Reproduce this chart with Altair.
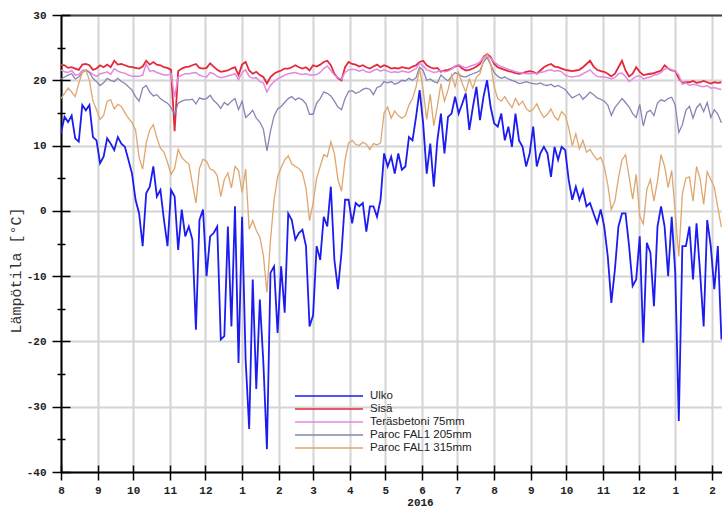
import altair as alt
import pandas as pd

series_names = ["Ulko", "Sisä", "Teräsbetoni 75mm", "Paroc FAL1 205mm", "Paroc FAL1 315mm"]
colors = ["#1c1cf0", "#e5283a", "#e08ae0", "#8585b5", "#dfa66e"]
widths = [1.8, 1.8, 1.5, 1.3, 1.3]

# samples every 3 days starting 2015-08-01
ulko = [
    11.9, 14.4, 13.6, 14.6, 11.1, 10.6, 16.2, 15.4, 16.2, 11.3, 10.8, 7.3, 8.3, 11.1, 10.3, 9.3, 11.3, 10.3,
    9.8, 7.8, 5.7, 1.7, -0.4, -5.4, 2.7, 3.7, 6.8, 2.2, 3.2, -1.4, -5.4, 3.2, 2.2, -6, 0.2, -3.9,
    -2.4, -4.4, -18.2, -1.4, 0.2, -10, -3.9, -3.4, -2.4, -19.7, -19.2, -2.4, -17.7, 0.7, -23.3, -0.9, -22.8,
    -33.4, -10.5, -27.3, -13.6, -23.3, -36.5, -9.5, -8.5, -18.7, -8.5, -15.6, -0.4, -1.4, -4.4, -3.4, -2.9,
    -5.4, -17.7,
    -16, -5.4, -7.5, -0.9, -2.4, 3.7, -7.5, -12, -6.4, 1.7, 1.7, -1.9, 1.2, 0.7, 1.2, -3.2, 0.7, 0.7, -0.9,
    1.7, 8.8, 6.8, 8.3, 5.7, 8.8, 6.3, 6.8, 11.3, 10.8, 14.4, 18.5, 13.4, 5.7, 10.3, 3.7, 10.8,
    14.9, 8.8, 14.4, 14.9, 17.5, 14.9, 16.4, 18, 12.4, 15.9, 19, 13.9, 17.5, 20, 15.9, 13.4, 12.9, 14.9,
    10.8, 12.9, 9.8, 14.9, 10.8, 9.8, 6.8, 8.8, 12.9, 6.8, 8.8, 9.8, 8.8, 5.2, 9.8, 7.8, 9.8,
    9.3, 4.7, 1.7, 3.7, 1.7, 3.2, 0.7, 1.2, -0.4, -1.9, 0.2, -2.4, -7, -14.1, -9, -2.4, -0.4, -0.4, -5.4,
    -11.5, -10.5, -3.9, -20.2, -4.9, -6.4, -14.6, -2.4, 0.7, -2.4, -10, -0.9, -9.5, -32.2, -5.4, -5.4, -2.4,
    -10.5, -1.9, -9.5, -17.7, -1.4, -5.4, -12, -5.4, -19.7,
]
sisa = [
    22.4, 22.3, 21.9, 22, 21.8, 21.6, 22.4, 22.5, 22.3, 21.6, 21.8, 22.3, 22, 22.4, 22, 23, 22.4, 22.5,
    22.3, 22.1, 22, 21.9, 21.8, 22.1, 23, 22.4, 22.8, 22.4, 22.3, 22, 21.9, 21.6, 12.2, 21.4, 21.8, 22,
    22.1, 22.3, 22.5, 21.9, 21.8, 21.9, 22.6, 22.1, 21.6, 21.3, 21.4, 21.5, 21.8, 22, 20.8, 22.4, 22.8, 21.5,
    21, 21.3, 20.8, 20.5, 19.5, 20.5, 21, 21.3, 21.5, 21.8, 21.8, 22, 22.3, 22, 21.8, 22, 21.5,
    22.3, 22.1, 22.4, 22.8, 23, 22.3, 21, 20.3, 20, 22, 22.8, 22.5, 22.4, 22.1, 22.3, 22, 21.8, 22.1, 22.4,
    22, 22.3, 22.1, 21.8, 21.9, 21.8, 22, 21.9, 21.8, 22.1, 22.3, 22.8, 23, 22.3, 22, 21.8, 21.9,
    21.3, 21.5, 21.6, 21.8, 22.1, 22.3, 21.8, 21.5, 21.6, 21.8, 22.1, 22.5, 23.6, 24, 23.6, 22.5, 22, 21.8,
    21.6, 21.4, 21.3, 21.1, 21, 21.1, 21.3, 21.4, 21.3, 21, 21.5, 22, 22.3, 22.5, 22.1, 22, 21.8,
    21.6, 21.5, 21.4, 21.5, 21.6, 22, 22.5, 23, 22.1, 21.6, 21.4, 21.3, 21, 20.6, 21, 22, 23, 21.5, 20.6,
    21, 22, 21.3, 20.8, 20.9, 21, 21.1, 21.3, 21.5, 22.3, 21.8, 21.5, 21.4, 20.3, 19.6, 19.7, 19.7, 19.9,
    19.6, 19.7, 19.9, 19.7, 19.5, 19.7, 19.6, 19.7,
]
teras = [
    21.6, 21.3, 21.2, 21.5, 20.8, 20.9, 21.5, 21.6, 21.3, 20.9, 20.6, 21, 21.1, 21.3, 20.9, 21.8, 21.4, 21.2,
    21.1, 20.8, 20.6, 20.6, 20.6, 20.8, 22.5, 21.4, 21.5, 21.2, 21, 20.8, 20.8, 21, 17.4, 20.5, 20.8, 21,
    21, 21.1, 21.2, 20.8, 20.6, 20.5, 21.2, 21, 20.6, 20.4, 20.5, 20.7, 20.8, 21, 20.1, 21.2, 21.6, 20.6,
    20.3, 20.4, 19.8, 19.6, 18.2, 19.2, 19.8, 20.2, 20.5, 20.8, 21, 21.1, 21.2, 21, 20.9, 21, 20.8,
    20.8, 20.9, 21.2, 21.8, 22.2, 21.5, 20.8, 20.4, 20.2, 21.2, 21.6, 21.7, 21.6, 21.4, 21.6, 21.3, 21.2,
    21.5, 21.7, 21.4, 21.6, 21.4, 21.2, 21.3, 21.2, 21.4, 21.3, 21.2, 21.5, 21.8, 22.6, 22.2, 21.6, 21.4,
    21.2, 21.3,
    21.5, 21.3, 21.4, 21.7, 22.2, 22.4, 22.1, 21.9, 22.1, 22.3, 22.5, 22.8, 23.5, 23.8, 23.4, 22.8, 22.4,
    22.1, 21.9, 21.7, 21.5, 21.3, 21.2, 21.1, 21, 21, 21.1, 21, 21.2, 21.3, 21.5, 21.6, 21.4, 21.5, 21.3,
    20.8, 20.6, 20.5, 20.6, 20.7, 21, 21.3, 21.6, 21, 20.6, 20.5, 20.5, 20.4, 20.2, 20.4, 21, 21.1, 20.6,
    19.8, 20.2, 20.6, 20.7, 20.2, 20.4, 20.5, 20.8, 20.9, 21.2, 21.7, 21.9, 21.6, 21.4, 20.8, 19.4, 19.6,
    19.2, 19.4, 19.3, 19.1, 19, 19.2, 18.8, 18.9, 18.7, 18.6,
]
paroc205 = [
    20.2, 20.5, 20.8, 21, 20.2, 20.5, 21.2, 21.5, 21.2, 20.3, 19.8, 19.2, 19.6, 20.3, 20, 19.8, 20.3, 19.8,
    19.5, 19, 18.5, 17.5, 16.8, 18.8, 19.2, 18.2, 17.6, 17.8, 17.2, 16.8, 16.5, 15.8, 14.8, 16.5, 16.8, 17,
    17, 17.1, 16.4, 17.3, 17.1, 17.2, 17.7, 16.9, 16.4, 15.7, 16.6, 16.2, 16.8, 17.2, 15.5, 16.8, 14.3, 14.8,
    15.4, 14.2, 13.6, 12.5, 9.2, 12.2, 14.5, 15.6, 16, 16.6, 17.2, 17.5, 17, 17.3, 17, 16.4, 14.8,
    14.8, 16.5, 17.2, 18.2, 18, 17.6, 16.8, 15.9, 15.5, 17.2, 18.3, 18.4, 18, 18.2, 18.6, 18.8, 18.6, 17.8,
    18.9, 19.1, 19.8, 19.6, 19.8, 19.4, 19.6, 20, 19.9, 20.3, 20, 20.4, 22, 21.5, 20, 20.2, 19.8, 19.6,
    20.8, 20.3, 19.9, 20.6, 21.2, 20.9, 20.6, 20.5, 20.8, 21, 21.2, 21.5, 22.8, 23.5, 22.4, 21.2, 20.6, 20.3,
    20.5, 20.2, 20, 19.8, 19.5, 19.6, 19.8, 19.6, 19.5, 19.4, 19.6, 19.3, 19.2, 19.4, 19, 19.2, 18.9,
    18.6, 17.9, 17.3, 17.6, 17.9, 17.1, 17.6, 18.2, 17.8, 17.3, 17.1, 16.8, 16.2, 14.6, 15.8, 16.5, 17.2,
    16.6, 15.9, 14.9, 14.3, 16.3, 13, 15.1, 15.4, 14.6, 16.5, 17, 16.8, 17.2, 17.4, 16.2, 12, 13.2, 15.4, 16,
    14.2, 15.8, 16.4, 15.2, 16.6, 14.3, 15.5, 14.8, 13.5,
]
paroc315 = [
    17.2, 18, 18.8, 18.2, 17.5, 19.5, 21.2, 21.6, 20, 16.8, 15.5, 14, 14.6, 16.8, 17, 15.6, 16.3, 16, 15,
    14.2, 13.5, 12.4, 8.2, 6.4, 10.4, 12.4, 13.2, 11.2, 9.6, 9, 7.4, 5.6, 6.5, 9.4, 8.2, 7.6,
    7.2, 4.2, 1.2, 6.5, 7.9, 7.6, 6.4, 6.2, 5.4, 2.2, 4.8, 5.8, 3.5, 6.8, 6.2, 2.8, 6.4, -2.8, -1.5, -3, -4,
    -6.8, -12.5, -4.5, 1.6, 5.2, 6.6, 7.8, 8.4, 7.2, 6.8, 6.5, 5.8, 3.5, -1.5,
    1.2, 5, 6.8, 8.6, 8.3, 10.6, 8.8, 4.8, 3, 7.8, 10.4, 10.8, 10.2, 10, 10.5, 10.2, 9.4, 10.3, 10.1, 10.4,
    15, 15.9, 14.2, 15.3, 14.6, 14.2, 14.6, 16.2, 17.2, 19, 21.8, 18.5, 14, 17.9, 13, 16,
    19.5, 16.8, 18.5, 20.8, 19, 21.2, 19.5, 18.2, 20.2, 18.8, 20.5, 21, 23, 24, 22.5, 19, 17.2, 16.8, 17.5,
    16.6, 15.8, 17.2, 16.2, 16.8, 15.7, 15.2, 15.6, 16.4, 15.2, 14.3, 14.8, 15.6, 14.4, 13.9, 15.2,
    14.6, 12.7, 10, 11.8, 9.5, 10.8, 9, 9.4, 8.5, 7.8, 8.2, 6.8, 4, 0.2, 1.5, 5, 7.8, 8.6, 5.2, 1.8, 5.6,
    -0.8, -2, 3.3, 4.8, 1.5, 4.6, 8.6, 6.8, 3.6, 6.2, -0.3, -7, 2.6, 5, 5.2, 1.5, 6.8, 4.9, 1, 6, 4.8, 3.6,
    0.5, -2.5,
]
all_series = [ulko, sisa, teras, paroc205, paroc315]

dates = pd.date_range("2015-08-01", periods=len(ulko), freq="3D")
date_str = [d.strftime("%Y-%m-%dT00:00:00Z") for d in dates]

rows = []
for name, vals in zip(series_names, all_series):
    for d, v in zip(date_str, vals):
        rows.append({"date": d, "series": name, "temp": v})
df = pd.DataFrame(rows)

months = [(2015, m) for m in range(8, 13)] + [(2016, m) for m in range(1, 13)] + [(2017, 1), (2017, 2)]
month_ticks = [alt.DateTime(year=y, month=m, date=1, utc=True) for y, m in months]
x_domain = [alt.DateTime(year=2015, month=8, date=1, utc=True),
            alt.DateTime(year=2017, month=2, date=9, hours=12, utc=True)]
y_major = [-40, -30, -20, -10, 0, 10, 20, 30]
y_minor = [-35, -25, -15, -5, 5, 15, 25]

MONO = "Liberation Mono"

x_main = alt.Axis(orient="bottom", values=month_ticks, labelExpr="utcFormat(datum.value, '%-m')",
                  labelFont=MONO, labelFontWeight="bold", labelFontSize=11, labelColor="#222",
                  labelPadding=4, labelFlush=False, labelOverlap=False,
                  tickSize=8, tickColor="#000", tickWidth=1.5,
                  domainColor="#000", domainWidth=2,
                  grid=True, gridColor="#d4d4d4", gridWidth=2,
                  title="2016", titleFont=MONO, titleFontWeight="bold", titleFontSize=11, titleColor="#222",
                  titleX=359, titleY=30, titleAlign="center", titleBaseline="middle")
x_inner = alt.Axis(orient="bottom", values=month_ticks, offset=-7, tickSize=7, tickColor="#000",
                   tickWidth=1.5, labels=False, domain=False, grid=False)
x_top = alt.Axis(orient="top", domainColor="#444", domainWidth=2, ticks=False, labels=False, grid=False)

y_main = alt.Axis(orient="left", values=y_major, labelExpr="'' + datum.value",
                  labelFont=MONO, labelFontWeight="bold", labelFontSize=11, labelColor="#222",
                  labelPadding=6, tickSize=9, tickColor="#000", tickWidth=1.5,
                  domainColor="#000", domainWidth=2,
                  grid=True, gridColor="#d4d4d4", gridWidth=2,
                  title="Lämpötila [°C]", titleFont=MONO, titleFontWeight="normal", titleFontSize=15,
                  titleColor="#333", titleX=-46, titleY=255, titleAngle=270,
                  titleAlign="center", titleBaseline="middle")
y_inner = alt.Axis(orient="left", values=y_major, offset=-9, tickSize=9, tickColor="#000",
                   tickWidth=1.5, labels=False, domain=False, grid=False)
y_minor_out = alt.Axis(orient="left", values=y_minor, tickSize=4, tickColor="#000", tickWidth=1.5,
                       labels=False, domain=False, grid=False)
y_minor_in = alt.Axis(orient="left", values=y_minor, offset=-4, tickSize=4, tickColor="#000",
                      tickWidth=1.5, labels=False, domain=False, grid=False)

x_axes = [x_main, x_inner, x_top, None, None]
y_axes = [y_main, y_inner, y_minor_out, y_minor_in, None]

legend = alt.Legend(orient="none", legendX=233, legendY=374.6, title=None,
                    symbolType="stroke", symbolSize=4624, symbolStrokeWidth=2, symbolOpacity=0.75,
                    clipHeight=12.8, rowPadding=0, padding=0,
                    labelFont="Liberation Sans", labelFontSize=11.5, labelColor="#222",
                    labelOffset=6, symbolOffset=0)

base = alt.Chart(df)
layers = []
for i, name in enumerate(series_names):
    layer = base.transform_filter(alt.datum.series == name).mark_line(
        strokeWidth=widths[i], clip=True
    ).encode(
        x=alt.X("date:T", title=None, axis=x_axes[i],
                scale=alt.Scale(type="utc", domain=x_domain, nice=False)),
        y=alt.Y("temp:Q", title=None, axis=y_axes[i],
                scale=alt.Scale(domain=[-40, 30], nice=False, zero=False)),
        color=alt.Color("series:N", scale=alt.Scale(domain=series_names, range=colors), legend=legend),
    )
    layers.append(layer)

chart = alt.layer(*layers).resolve_scale(
    x="independent", y="independent", color="shared"
).properties(
    width=661, height=457,
    autosize=alt.AutoSizeParams(type="none"),
    padding={"left": 61, "top": 15, "right": 0, "bottom": 37},
    background="white",
).configure_view(strokeWidth=0)

chart.save("out.html", embed_options={"renderer": "svg", "actions": False})
